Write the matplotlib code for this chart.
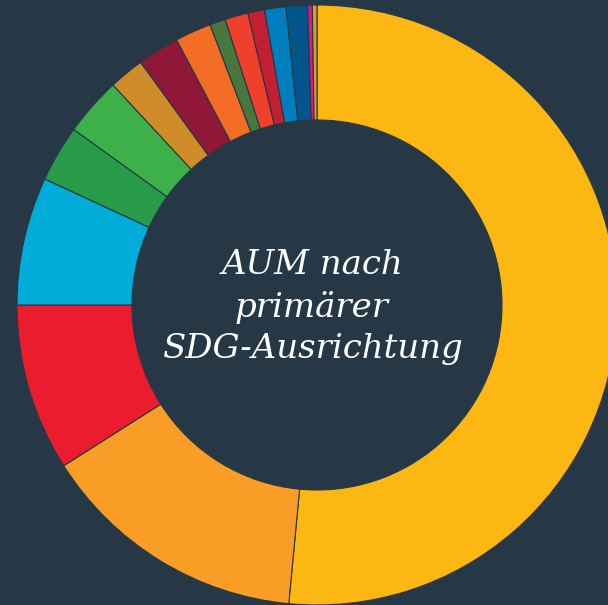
import matplotlib
matplotlib.use("Agg")
import matplotlib.pyplot as plt

BG = "#263746"

# SDG goals ordered by share of AUM (clockwise from 12 o'clock)
goals = ["SDG 7", "SDG 11", "SDG 1", "SDG 6", "SDG 3", "SDG 15", "SDG 12", "SDG 8",
         "SDG 9", "SDG 13", "SDG 5", "SDG 4", "SDG 14", "SDG 16", "SDG 10", "SDG 2"]
shares = [51.5, 14.5, 9.0, 6.9, 3.05, 3.15, 1.9, 2.25,
          1.95, 0.85, 1.25, 0.9, 1.15, 1.15, 0.25, 0.25]
colors = ["#FDB713", "#F99D26", "#EB1C2D", "#00ADD8", "#279B48", "#3EB049", "#CF8D2A", "#8F1838",
          "#F36D25", "#48773E", "#EF402B", "#C31F33", "#007DBC", "#02558B", "#E11484", "#D3A029"]
title = "AUM nach\nprimärer\nSDG-Ausrichtung"

fig = plt.figure(figsize=(6.08, 6.05), dpi=100, facecolor=BG)
ax = fig.add_axes([0, 0, 1, 1])
ax.set_facecolor(BG)

outer_r = 300
inner_r = 185
cx, cy = 317, 300

ax.pie(shares, colors=colors, startangle=90, counterclock=False,
       center=(cx, cy), radius=outer_r, frame=True,
       wedgeprops=dict(width=outer_r - inner_r, edgecolor=BG, linewidth=0.8))

ax.text(312, cy - 2, title, ha="center", va="center", color="white",
        fontsize=24.5, family="DejaVu Serif", style="italic", linespacing=1.36)

ax.set_xlim(0, 608)
ax.set_ylim(0, 605)
ax.set_aspect("equal")
ax.axis("off")

fig.savefig("out.png", dpi=100, facecolor=BG)
plt.close(fig)
